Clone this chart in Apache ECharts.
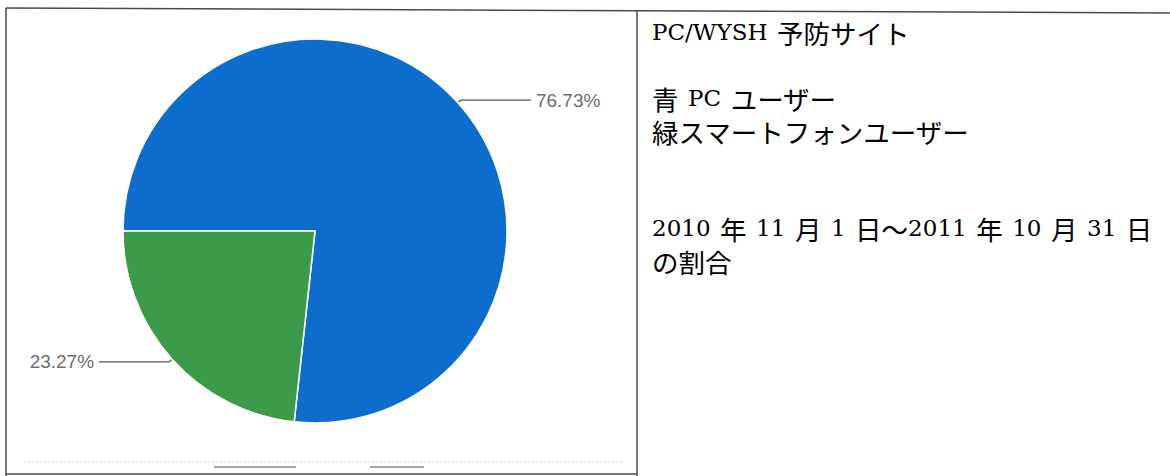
<!DOCTYPE html>
<html>
<head>
<meta charset="utf-8">
<title>PC/WYSH 予防サイト</title>
<script src="https://cdn.jsdelivr.net/npm/echarts@6/dist/echarts.min.js"></script>
<style>
  html, body { margin: 0; padding: 0; background: #fff; }
  #chart { width: 1170px; height: 476px; }
</style>
</head>
<body>
<div id="chart"></div>
<script>
// Share of visitors by device type
const categories = ['PCユーザー', 'スマートフォンユーザー'];
const shares = [76.73, 23.27];
const sliceColors = ['#0d6dcc', '#3c9b48'];

// Notes in the right-hand cell
const noteLines = [
  { text: 'PC/WYSH 予防サイト', y: 32 },
  { text: '青 PC ユーザー', y: 98 },
  { text: '緑スマートフォンユーザー', y: 131 },
  { text: '2010 年 11 月 1 日～2011 年 10 月 31 日', y: 228 },
  { text: 'の割合', y: 261 }
];

const chart = echarts.init(document.getElementById('chart'), null, { renderer: 'svg' });

// Latin runs, CJK runs and spaces each get their own text style
const noteRich = {
  lat: { fontFamily: '"DejaVu Serif", serif', fontSize: 23, lineHeight: 28, color: '#1e1e1e' },
  cjk: { fontFamily: '"Noto Sans CJK JP", sans-serif', fontSize: 26.5, lineHeight: 28, color: '#1e1e1e' },
  sp: { fontFamily: '"DejaVu Serif", serif', fontSize: 30, lineHeight: 28, color: '#1e1e1e' }
};

function charKind(ch) {
  if (ch === ' ') return 'sp';
  return ch.charCodeAt(0) < 0x2000 ? 'lat' : 'cjk';
}

function toRich(str) {
  let out = '';
  let kind = null;
  let run = '';
  for (const ch of str) {
    const k = charKind(ch);
    if (k !== kind && run) {
      out += '{' + kind + '|' + run + '}';
      run = '';
    }
    kind = k;
    run += ch;
  }
  if (run) out += '{' + kind + '|' + run + '}';
  return out;
}

const graphics = [
  // table frame
  { type: 'line', shape: { x1: 6, y1: 8, x2: 1170, y2: 13 }, style: { stroke: '#4a4a4a', lineWidth: 1.5 } },
  { type: 'line', shape: { x1: 6, y1: 8, x2: 6, y2: 476 }, style: { stroke: '#4a4a4a', lineWidth: 1.5 } },
  { type: 'line', shape: { x1: 637, y1: 11, x2: 637, y2: 476 }, style: { stroke: '#4a4a4a', lineWidth: 1.5 } },
  { type: 'line', shape: { x1: 6, y1: 474, x2: 637, y2: 474 }, style: { stroke: '#4a4a4a', lineWidth: 1.5 } },
  // faint rule and legend stubs under the pie
  { type: 'line', shape: { x1: 24, y1: 462, x2: 622, y2: 462 }, style: { stroke: '#cfcfcf', lineWidth: 1, lineDash: [2, 2] } },
  { type: 'line', shape: { x1: 214, y1: 467, x2: 296, y2: 467 }, style: { stroke: '#8a8a8a', lineWidth: 1.5 } },
  { type: 'line', shape: { x1: 370, y1: 467, x2: 424, y2: 467 }, style: { stroke: '#8a8a8a', lineWidth: 1.5 } }
];

noteLines.forEach(function (line) {
  graphics.push({
    type: 'text',
    x: 652,
    y: line.y,
    style: {
      text: toRich(line.text),
      rich: noteRich,
      verticalAlign: 'middle'
    }
  });
});

chart.setOption({
  animation: false,
  backgroundColor: '#ffffff',
  color: sliceColors,
  graphic: graphics,
  series: [{
    type: 'pie',
    center: [315, 231],
    radius: 192,
    startAngle: 180,
    clockwise: true,
    avoidLabelOverlap: false,
    itemStyle: { borderColor: '#ffffff', borderWidth: 1.5 },
    label: {
      show: true,
      position: 'outside',
      formatter: function (p) { return p.value.toFixed(2) + '%'; },
      color: '#6e6e6e',
      fontFamily: '"Liberation Sans", Arial, sans-serif',
      fontSize: 19
    },
    labelLine: {
      show: true,
      length: 4,
      length2: 70,
      lineStyle: { color: '#555555', width: 1.2 }
    },
    emphasis: { disabled: true },
    data: categories.map(function (name, i) {
      return { name: name, value: shares[i] };
    })
  }]
});
</script>
</body>
</html>
